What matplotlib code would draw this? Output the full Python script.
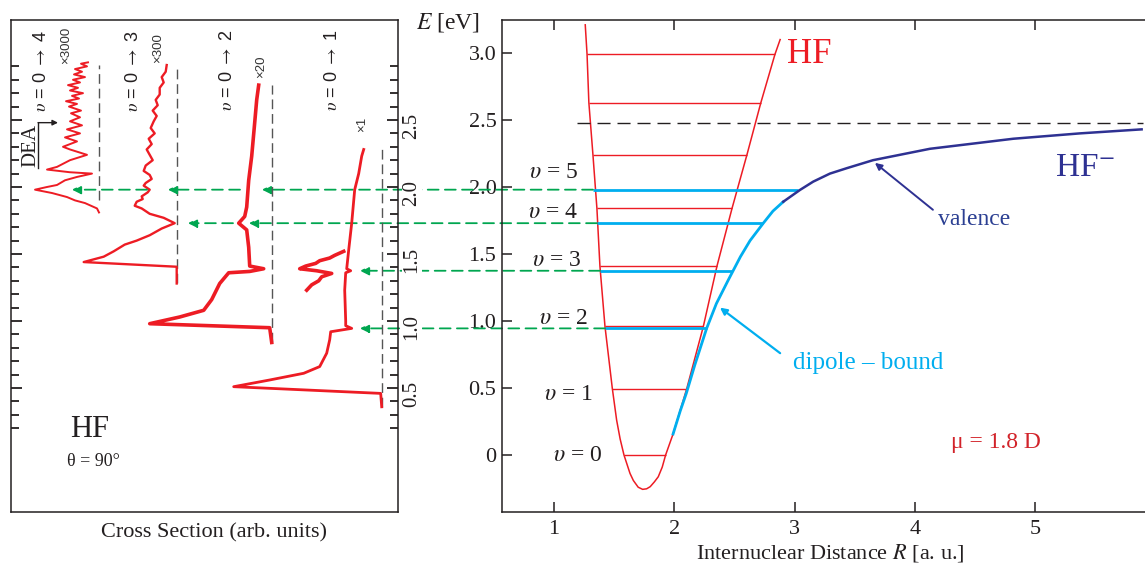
import matplotlib
matplotlib.use("Agg")
import numpy as np
import matplotlib.pyplot as plt
from matplotlib.patches import ConnectionPatch

plt.rcParams['font.family'] = ['Liberation Serif', 'DejaVu Serif']
plt.rcParams['mathtext.fontset'] = 'stix'

# ---------------- data ----------------
# HF ground state potential (R in a.u., E in eV)
hf_R = [1.26, 1.275, 1.29, 1.324, 1.357, 1.382, 1.424, 1.485, 1.521, 1.55, 1.582, 1.632, 1.66, 1.70,
        1.737, 1.77, 1.80, 1.835, 1.867, 1.90, 1.928, 1.99, 2.103, 2.241, 2.355, 2.48, 2.604, 2.72, 2.837, 2.88]
hf_E = [3.21, 2.99, 2.63, 2.24, 1.84, 1.41, 0.96, 0.497, 0.26, 0.12, 0.0, -0.137, -0.19, -0.24,
        -0.256, -0.252, -0.236, -0.20, -0.162, -0.09, 0.0, 0.157, 0.493, 0.957, 1.41, 1.84, 2.24, 2.63, 2.99, 3.10]

# vibrational levels of HF
lvl_E = [0.0, 0.49, 0.963, 1.41, 1.84, 2.24, 2.63, 2.99]
lvl_R0 = [1.582, 1.482, 1.424, 1.382, 1.357, 1.324, 1.291, 1.274]
lvl_R1 = [1.931, 2.105, 2.239, 2.355, 2.480, 2.604, 2.720, 2.837]

# dipole-bound levels (blue)
db_E = [0.945, 1.375, 1.73, 1.98]
db_R0 = [1.424, 1.382, 1.357, 1.324]
db_R1 = [2.272, 2.48, 2.737, 3.03]

# anion curves
dip_R = [1.99, 2.05, 2.10, 2.17, 2.269, 2.35, 2.449, 2.55, 2.63, 2.74, 2.82, 2.906]
dip_E = [0.157, 0.33, 0.46, 0.67, 0.945, 1.13, 1.306, 1.48, 1.60, 1.73, 1.82, 1.89]
val_R = [2.906, 3.045, 3.155, 3.294, 3.433, 3.652, 4.125, 4.818, 5.372, 5.885]
val_E = [1.89, 1.978, 2.04, 2.10, 2.14, 2.20, 2.285, 2.36, 2.40, 2.43]

dea_E = 2.475
lvl_names = ['$\\upsilon$ = 0', '$\\upsilon$ = 1', '$\\upsilon$ = 2', '$\\upsilon$ = 3', '$\\upsilon$ = 4', '$\\upsilon$ = 5']
lvl_name_R = [1.20, 1.117, 1.075, 1.025, 0.99, 1.0]
lvl_name_E = [0.0, 0.448, 1.02, 1.45, 1.81, 2.11]

# spectra (E in eV, intensity in arb. units, grows to the left)
s1_E = [0.36, 0.46, 0.51, 0.56, 0.61, 0.66, 0.76, 0.86, 0.92, 0.945, 0.965, 1.0, 1.23, 1.36, 1.375, 1.39,
        1.53, 1.73, 1.98, 2.10, 2.23, 2.28]
s1_I = [0, 1, 148, 112, 78, 62, 55, 52, 51, 30, 36, 36, 37, 36, 31, 35, 33, 30, 27, 23, 20, 18]
s1z_E = [1.52, 1.49, 1.47, 1.45, 1.43, 1.41, 1.39, 1.375, 1.355, 1.33, 1.30, 1.27, 1.23]
s1z_I = [38, 47, 52, 62, 66, 76, 82, 65, 50, 60, 63, 70, 75]

s2_E = [0.84, 0.95, 0.98, 1.03, 1.08, 1.16, 1.28, 1.36, 1.37, 1.39, 1.41, 1.55, 1.68, 1.73, 1.78, 1.85,
        2.05, 2.23, 2.48, 2.65, 2.76]
s2_I = [0, 2, 122, 92, 68, 60, 52, 43, 22, 8, 22, 23, 25, 33, 27, 25, 23, 20, 17, 15, 13]

s3_E = [1.28, 1.405, 1.44, 1.48, 1.52, 1.57, 1.60, 1.64, 1.69, 1.73, 1.77, 1.80, 1.84, 1.86, 1.89, 1.91,
        1.93, 1.96, 1.98, 2.01, 2.03, 2.06, 2.09, 2.12, 2.16, 2.20, 2.24, 2.28, 2.32, 2.36, 2.40, 2.44,
        2.49, 2.53, 2.57, 2.61, 2.65, 2.69, 2.74, 2.78, 2.82, 2.86, 2.91]
s3_I = [0, 0, 93, 73, 63, 52, 40, 27, 15, 2, 13, 27, 35, 42, 40, 34, 35, 29, 27, 33, 31, 25, 27, 33, 31,
        24, 27, 30, 25, 28, 22, 26, 23, 20, 24, 19, 21, 17, 17, 13, 15, 11, 10]

s4_E = [1.81, 1.84, 1.88, 1.90, 1.925, 1.955, 1.98, 2.00, 2.015, 2.05, 2.075, 2.10, 2.11, 2.13, 2.15,
        2.20, 2.24, 2.28, 2.30, 2.34, 2.37, 2.40, 2.43, 2.46, 2.49, 2.52, 2.55, 2.57, 2.60, 2.62, 2.64,
        2.66, 2.68, 2.70, 2.72, 2.74, 2.76, 2.78, 2.80, 2.82, 2.84, 2.86, 2.88, 2.90, 2.92, 2.93]
s4_I = [0, 2, 14, 24, 32, 47, 64, 52, 42, 34, 22, 7, 29, 52, 42, 29, 12, 29, 36, 22, 34, 19, 32, 17,
        29, 19, 28, 18, 30, 22, 33, 20, 27, 16, 29, 21, 31, 19, 26, 14, 25, 17, 24, 12, 18, 11]

spectra = [(s1_E, s1_I), (s2_E, s2_I), (s3_E, s3_I), (s4_E, s4_I)]
spec_names = ['$\\upsilon$ = 0 $\\rightarrow$ 1', '$\\upsilon$ = 0 $\\rightarrow$ 2',
              '$\\upsilon$ = 0 $\\rightarrow$ 3', '$\\upsilon$ = 0 $\\rightarrow$ 4']
spec_scale = ['×1', '×20', '×300', '×3000']

# ---------------- layout / style ----------------
W, H = 1145, 570
red = '#ED1C24'
lblue = '#00AEEF'
navy = '#2E3192'
green = '#00A650'
ink = '#231F20'
Elo, Ehi = -0.425, 3.246

base_u = [16.3, 126.3, 221.3, 299.0]          # baseline of each spectrum
base_top = [2.29, 2.76, 2.91, 2.91]
base_bot = [0.36, 0.84, 1.28, 1.90]
lw_spec = [2.0, 2.6, 1.7, 1.4]

fig = plt.figure(figsize=(W / 100, H / 100), dpi=100)
axL = fig.add_axes([11 / W, 1 - 512 / H, 387 / W, 492 / H])
axR = fig.add_axes([502 / W, 1 - 512 / H, 643 / W, 492 / H])

# ---------------- left panel ----------------
axL.set_xlim(387, 0)
axL.set_ylim(Elo, Ehi)
axL.set_zorder(1)
axL.patch.set_alpha(0)
for sp in axL.spines.values():
    sp.set_linewidth(1.1)
    sp.set_color(ink)
axL.set_xticks([])
axL.set_yticks([0.5, 1.0, 1.5, 2.0, 2.5])
axL.set_yticklabels(['0.5', '1.0', '1.5', '2.0', '2.5'])
axL.set_yticks([round(0.2 + 0.1 * i, 1) for i in range(28)], minor=True)
axL.tick_params(axis='y', which='both', direction='in', left=True, right=True,
                labelleft=False, labelright=True, labelrotation=90, labelsize=15,
                pad=3, width=1.3, color=ink, labelcolor=ink)
axL.tick_params(axis='y', which='major', length=8)
axL.tick_params(axis='y', which='minor', length=6)
for lab in axL.get_yticklabels():
    lab.set_bbox(dict(fc='white', ec='none', pad=0.5))

for k, (E, I) in enumerate(spectra):
    axL.plot([base_u[k], base_u[k]], [base_bot[k], base_top[k]], color='#555555', lw=1.0,
             ls=(0, (7, 3.5)))
    axL.plot(base_u[k] + np.array(I), E, color=red, lw=lw_spec[k], solid_joinstyle='round')
axL.plot(base_u[0] + np.array(s1z_I), s1z_E, color=red, lw=2.6, solid_joinstyle='round')

name_u = [65, 170, 264, 356]
scale_u = [36, 137, 240, 332]
scale_E = [2.47, 2.90, 3.04, 3.06]
for k in range(4):
    axL.text(name_u[k], 2.87, spec_names[k], rotation=90, ha='center', va='center',
             fontsize=13, family=['Liberation Sans', 'DejaVu Sans'], color=ink)
    axL.text(scale_u[k], scale_E[k], spec_scale[k], rotation=90, ha='center', va='center',
             fontsize=9.5, family=['Liberation Sans', 'DejaVu Sans'], color='#333333')

axL.text(367, 2.31, 'DEA', rotation=90, ha='center', va='center', fontsize=15, color=ink)
axL.plot([360, 360], [2.14, 2.48], color=ink, lw=1.0)
axL.annotate('', xy=(340, 2.48), xytext=(360, 2.48),
             arrowprops=dict(arrowstyle='-|>', color=ink, lw=1.0, shrinkA=0, shrinkB=0, mutation_scale=8))
axL.text(308, 0.19, 'HF', ha='center', va='center', fontsize=22, color=ink)
axL.text(305, -0.045, 'θ = 90°', ha='center', va='center', fontsize=13, color=ink)
axL.set_xlabel('Cross Section (arb. units)', fontsize=16, color=ink)
axL.xaxis.set_label_coords(0.5245, -0.022)

# ---------------- right panel ----------------
axR.set_xlim(0.568, 5.913)
axR.set_ylim(Elo, Ehi)
axR.spines['right'].set_visible(False)
for sp in axR.spines.values():
    sp.set_linewidth(1.1)
    sp.set_color(ink)
axR.set_xticks([1, 2, 3, 4, 5])
axR.set_yticks([0, 0.5, 1.0, 1.5, 2.0, 2.5, 3.0])
axR.set_yticklabels(['0', '0.5', '1.0', '1.5', '2.0', '2.5', '3.0'])
axR.tick_params(direction='in', top=True, length=7, width=1.1, labelsize=16, color=ink, labelcolor=ink)
axR.tick_params(axis='x', pad=6)
axR.tick_params(axis='y', pad=4)
for lab in axR.get_yticklabels():
    lab.set_bbox(dict(fc='white', ec='none', pad=0.5))

axR.plot(hf_R, hf_E, color=red, lw=1.1)
axR.hlines(lvl_E, lvl_R0, lvl_R1, color=red, lw=1.0)
axR.hlines(db_E, db_R0, db_R1, color=lblue, lw=2.0)
axR.plot(dip_R, dip_E, color=lblue, lw=2.0)
axR.plot(val_R, val_E, color=navy, lw=1.8)
axR.plot([1.19, 5.9], [dea_E, dea_E], color=ink, lw=1.0, ls=(0, (9.4, 5)))

for name, r, e in zip(lvl_names, lvl_name_R, lvl_name_E):
    axR.text(r, e, name, ha='center', va='center', fontsize=17, color=ink)

axR.text(3.12, 2.985, 'HF', ha='center', va='center', fontsize=25, color=red)
axR.text(5.41, 2.14, 'HF$^{-}$', ha='center', va='center', fontsize=24, color=navy)
axR.text(4.49, 1.754, 'valence', ha='center', va='center', fontsize=17, color='#2B3F92')
axR.annotate('', xy=(3.668, 2.18), xytext=(4.15, 1.83),
             arrowprops=dict(arrowstyle='-|>', color=navy, lw=1.4, shrinkA=0, shrinkB=0, mutation_scale=10))
axR.text(3.61, 0.687, 'dipole – bound', ha='center', va='center', fontsize=18, color=lblue)
axR.annotate('', xy=(2.38, 1.10), xytext=(2.88, 0.76),
             arrowprops=dict(arrowstyle='-|>', color=lblue, lw=1.6, shrinkA=0, shrinkB=0, mutation_scale=10))
axR.text(4.67, 0.09, 'μ = 1.8 D', ha='center', va='center', fontsize=17, color='#D2232A')

axR.set_xlabel('Internuclear Distance $R$ [a. u.]', fontsize=16, color=ink)
axR.xaxis.set_label_coords(0.51, -0.06)
fig.text(480 / W, 1 - 22 / H, '$E$ [eV]', ha='right', va='center', fontsize=17, color=ink)

# ---------------- green arrows: levels -> spectra ----------------
green_E = [1.98, 1.73, 1.375, 0.945]
green_head = [136, 149, 38, 38]
dash_g = (0, (6, 3.5))
for e, r0, uh in zip(green_E, db_R0[::-1], green_head):
    con = ConnectionPatch(xyA=(r0, e), coordsA=axR.transData, xyB=(uh, e), coordsB=axL.transData,
                          arrowstyle='-|>', color=green, lw=1.3, ls=dash_g, mutation_scale=13,
                          shrinkA=0, shrinkB=0, zorder=2)
    axR.add_artist(con)
    con.set_clip_on(False)

seg_E = [1.98, 1.98, 1.73]
seg_tail = [158, 251, 165]
seg_head = [230, 326, 210]
for e, ut, uh in zip(seg_E, seg_tail, seg_head):
    axL.annotate('', xy=(uh, e), xytext=(ut, e),
                 arrowprops=dict(arrowstyle='-|>', color=green, lw=1.3, ls=dash_g, shrinkA=0, shrinkB=0,
                                 mutation_scale=13))

fig.savefig('out.png', dpi=100, facecolor='white')
